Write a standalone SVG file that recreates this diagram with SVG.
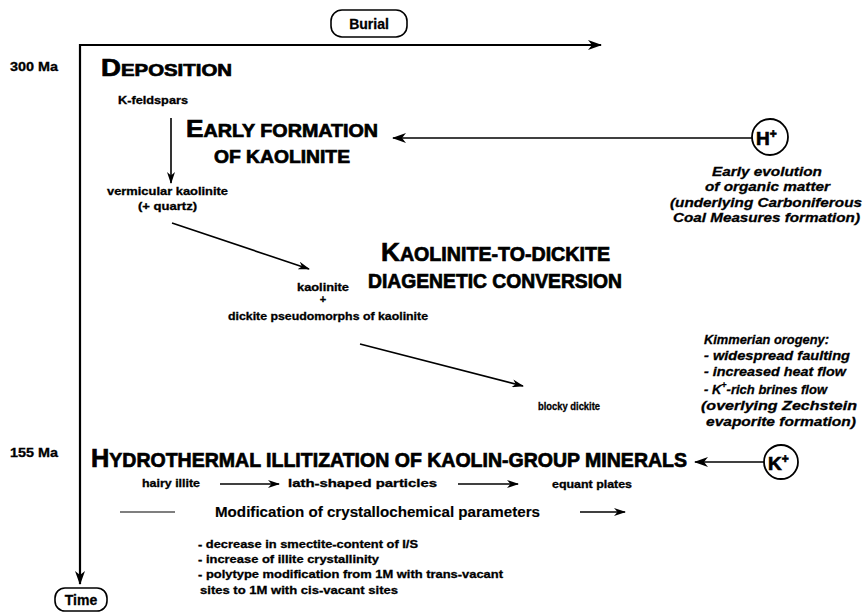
<svg xmlns="http://www.w3.org/2000/svg" width="863" height="612" viewBox="0 0 863 612">
<defs>
<style>
text{font-family:"Liberation Sans",Arial,sans-serif;font-weight:bold;fill:#000;stroke:#000;stroke-width:0.3}
.h{stroke-width:0.7}
.i{font-style:italic}
.m{stroke-width:0.15}
.ln{stroke:#000;fill:none}
.ax{stroke-width:2.2}
.ar{stroke-width:1.6}
.pill{fill:#fff;stroke:#000;stroke-width:1.6}
</style>
<marker id="ah" viewBox="0 0 12 8" refX="11" refY="4" markerWidth="12" markerHeight="8" markerUnits="userSpaceOnUse" orient="auto"><path d="M0,0 L12,4 L0,8 L3.5,4 z" fill="#000"/></marker>
<marker id="ahb" viewBox="0 0 14 10" refX="13" refY="5" markerWidth="14" markerHeight="10" markerUnits="userSpaceOnUse" orient="auto"><path d="M0,0 L14,5 L0,10 L4,5 z" fill="#000"/></marker>
</defs>

<g id="connectors">
<path class="ln ax" d="M80,45 H601" marker-end="url(#ahb)"/>
<path class="ln ax" d="M80,44 V584" marker-end="url(#ahb)"/>
<path class="ln ar" d="M171,118 V183" marker-end="url(#ah)"/>
<path class="ln ar" d="M752,138 H393" marker-end="url(#ahb)"/>
<path class="ln ar" d="M172,223 L309,269" marker-end="url(#ah)"/>
<path class="ln ar" d="M360,344 L523,386" marker-end="url(#ah)"/>
<path class="ln ar" d="M765,462 H695" marker-end="url(#ahb)"/>
<path class="ln ar" d="M220,484 H279" marker-end="url(#ah)"/>
<path class="ln ar" d="M458,484 H518" marker-end="url(#ah)"/>
<path class="ln" stroke-width="1.2" d="M120,512 H175"/>
<path class="ln ar" d="M580,512 H625" marker-end="url(#ah)"/>
</g>

<g id="burial">
<rect class="pill" x="331" y="10" width="76" height="27" rx="11"/>
<text x="369" y="29" font-size="14" text-anchor="middle">Burial</text>
</g>
<g id="time">
<rect class="pill" x="55" y="588" width="52" height="23" rx="10"/>
<text x="81" y="605" font-size="14" text-anchor="middle">Time</text>
</g>

<g id="age300"><text x="10" y="71" font-size="12" textLength="48" lengthAdjust="spacingAndGlyphs">300 Ma</text></g>
<g id="age155"><text x="10" y="457" font-size="12" textLength="48" lengthAdjust="spacingAndGlyphs">155 Ma</text></g>

<g id="deposition">
<text class="h" x="101" y="76" textLength="131" lengthAdjust="spacingAndGlyphs"><tspan font-size="23">D</tspan><tspan font-size="17">EPOSITION</tspan></text>
<text x="118" y="104" font-size="10.5" textLength="70" lengthAdjust="spacingAndGlyphs">K-feldspars</text>
</g>

<g id="early-formation">
<text class="h" x="186" y="137" textLength="192" lengthAdjust="spacingAndGlyphs"><tspan font-size="24">E</tspan><tspan font-size="18">ARLY FORMATION</tspan></text>
<text class="h" x="214" y="163" font-size="18" textLength="136" lengthAdjust="spacingAndGlyphs">OF KAOLINITE</text>
<text x="107" y="195" font-size="10.5" textLength="121" lengthAdjust="spacingAndGlyphs">vermicular kaolinite</text>
<text x="138" y="210" font-size="10.5" textLength="59" lengthAdjust="spacingAndGlyphs">(+ quartz)</text>
</g>

<g id="h-plus">
<circle cx="770" cy="137" r="18" fill="#fff" stroke="#000" stroke-width="1.8"/>
<text class="h" x="756" y="145" font-size="19">H<tspan font-size="12" dy="-7">+</tspan></text>
<text class="i" x="712" y="176" font-size="13" textLength="110" lengthAdjust="spacingAndGlyphs">Early evolution</text>
<text class="i" x="705" y="191" font-size="13" textLength="125" lengthAdjust="spacingAndGlyphs">of organic matter</text>
<text class="i" x="670" y="207" font-size="13" textLength="192" lengthAdjust="spacingAndGlyphs">(underlying Carboniferous</text>
<text class="i" x="673" y="222" font-size="13" textLength="187" lengthAdjust="spacingAndGlyphs">Coal Measures formation)</text>
</g>

<g id="kaolinite-to-dickite">
<text class="h" x="381" y="261" textLength="229" lengthAdjust="spacingAndGlyphs"><tspan font-size="26">K</tspan><tspan font-size="19.5">AOLINITE-TO-DICKITE</tspan></text>
<text class="h" x="368" y="288" font-size="19.5" textLength="254" lengthAdjust="spacingAndGlyphs">DIAGENETIC CONVERSION</text>
<text x="297" y="291" font-size="10.5" textLength="52" lengthAdjust="spacingAndGlyphs">kaolinite</text>
<text x="323" y="303" font-size="11" text-anchor="middle">+</text>
<text x="228" y="320" font-size="10.5" textLength="200" lengthAdjust="spacingAndGlyphs">dickite pseudomorphs of kaolinite</text>
<text x="538" y="410" font-size="10.5" textLength="62" lengthAdjust="spacingAndGlyphs">blocky dickite</text>
</g>

<g id="kimmerian">
<text class="i" x="704" y="344" font-size="13" textLength="125" lengthAdjust="spacingAndGlyphs">Kimmerian orogeny:</text>
<text class="i" x="704" y="360" font-size="13" textLength="146" lengthAdjust="spacingAndGlyphs">- widespread faulting</text>
<text class="i" x="704" y="376" font-size="13" textLength="142" lengthAdjust="spacingAndGlyphs">- increased heat flow</text>
<text class="i" x="704" y="394" font-size="13">- K<tspan font-size="9" dy="-6">+</tspan><tspan dy="6">-rich brines flow</tspan></text>
<text class="i" x="701" y="410" font-size="13" textLength="156" lengthAdjust="spacingAndGlyphs">(overlying Zechstein</text>
<text class="i" x="706" y="426" font-size="13" textLength="150" lengthAdjust="spacingAndGlyphs">evaporite formation)</text>
</g>

<g id="k-plus">
<circle cx="781" cy="462" r="17" fill="#fff" stroke="#000" stroke-width="1.8"/>
<text class="h" x="768" y="470" font-size="19">K<tspan font-size="12" dy="-7">+</tspan></text>
</g>

<g id="hydrothermal-illitization">
<text class="h" x="91" y="467" textLength="596" lengthAdjust="spacingAndGlyphs"><tspan font-size="26">H</tspan><tspan font-size="20">YDROTHERMAL ILLITIZATION OF KAOLIN-GROUP MINERALS</tspan></text>
<text x="142" y="487" font-size="10.5" textLength="58" lengthAdjust="spacingAndGlyphs">hairy illite</text>
<text x="288" y="487" font-size="10.5" textLength="149" lengthAdjust="spacingAndGlyphs">lath-shaped particles</text>
<text x="552" y="488" font-size="10.5" textLength="80" lengthAdjust="spacingAndGlyphs">equant plates</text>
<text class="m" x="215" y="517" font-size="14" textLength="325" lengthAdjust="spacingAndGlyphs">Modification of crystallochemical parameters</text>
<text x="198" y="548" font-size="11" textLength="220" lengthAdjust="spacingAndGlyphs">- decrease in smectite-content of I/S</text>
<text x="198" y="563" font-size="11" textLength="181" lengthAdjust="spacingAndGlyphs">- increase of illite crystallinity</text>
<text x="198" y="578" font-size="11" textLength="305" lengthAdjust="spacingAndGlyphs">- polytype modification from 1M with trans-vacant</text>
<text x="200" y="594" font-size="11" textLength="198" lengthAdjust="spacingAndGlyphs">sites to 1M with cis-vacant sites</text>
</g>
</svg>
